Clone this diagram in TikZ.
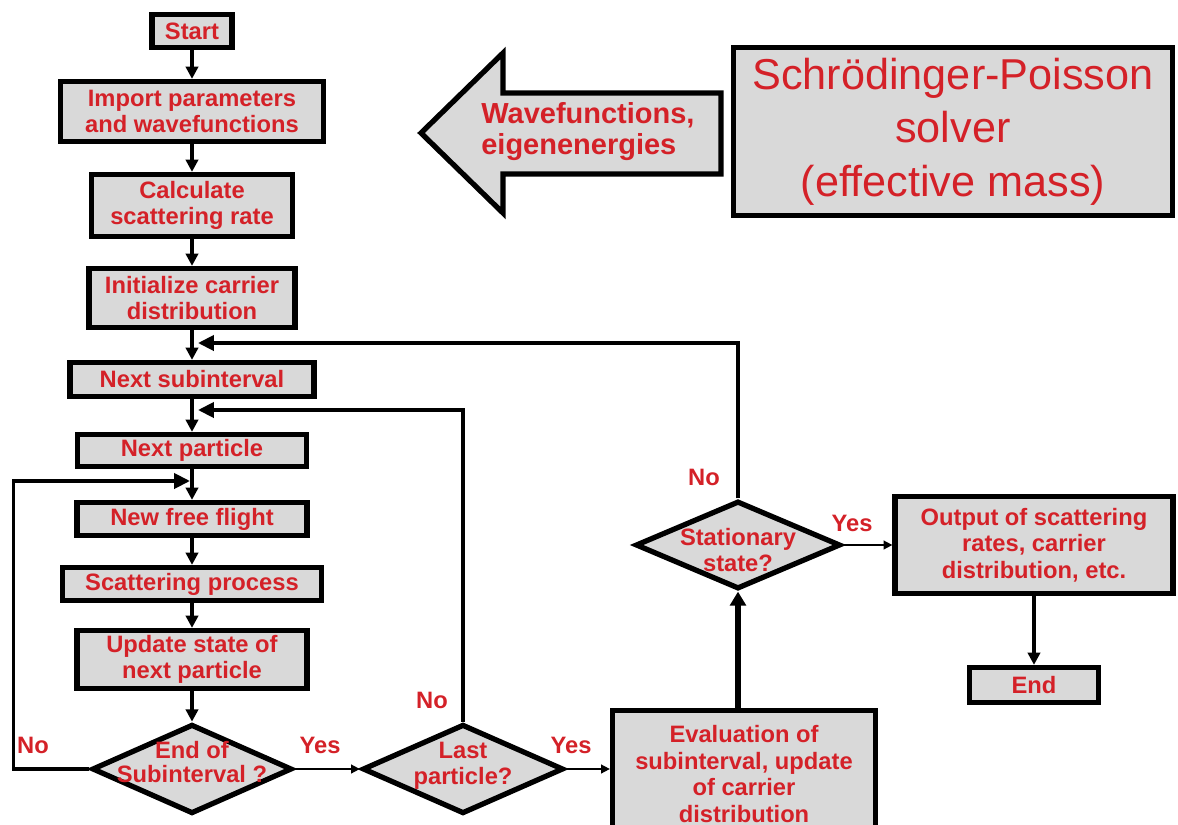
\documentclass[tikz,border=0pt]{standalone}
\usepackage{fontspec}
\setmainfont{Liberation Sans}
\usetikzlibrary{shapes.geometric,arrows.meta}
\definecolor{txtred}{RGB}{212,33,40}
\definecolor{boxgray}{RGB}{217,217,217}
\newcommand{\boxfont}{\fontsize{13.5}{15}\selectfont\bfseries}
\newcommand{\wavefont}{\fontsize{16.5}{17.6}\selectfont\bfseries}
\newcommand{\solverfont}{\fontsize{24.6}{30.5}\selectfont}

\begin{document}
\begin{tikzpicture}[x=0.02cm, y=-0.02cm,
	box/.style={draw, line width=3pt, fill=boxgray, text=txtred, font=\boxfont, align=center, inner sep=0pt},
	decision/.style={draw, diamond, line width=3pt, fill=boxgray, inner sep=0pt},
	lab/.style={text=txtred, font=\boxfont, inner sep=0pt},
	link/.style={line width=1.9pt, -{Triangle[length=7pt,width=7pt]}},
	back/.style={line width=2.1pt, -{Triangle[length=9pt,width=8.5pt]}},
	yeslink/.style={line width=0.9pt, -{Triangle[length=5pt,width=5pt]}}]
	\useasboundingbox (0,0) rectangle (1178,825);
	\clip (0,0) rectangle (1178,825);

	% colonne de gauche
	\node[box, minimum width=1.6cm, minimum height=0.66cm] (start) at (192,31) {Start};
	\node[box, minimum width=5.26cm, minimum height=1.2cm] (import) at (192,111.5) {Import parameters\\and wavefunctions};
	\node[box, minimum width=4.02cm, minimum height=1.24cm] (calc) at (192,205.5) {Calculate\\scattering rate};
	\node[box, minimum width=4.12cm, minimum height=1.18cm] (init) at (192,298) {Initialize carrier\\distribution};
	\node[box, minimum width=4.88cm, minimum height=0.68cm] (nextsub) at (192,379.5) {Next subinterval};
	\node[box, minimum width=4.58cm, minimum height=0.64cm] (nextpart) at (192,450.5) {Next particle};
	\node[box, minimum width=4.6cm, minimum height=0.66cm] (newflight) at (192,519) {New free flight};
	\node[box, minimum width=5.18cm, minimum height=0.66cm] (scatter) at (192,584) {Scattering process};
	\node[box, minimum width=4.6cm, minimum height=1.16cm] (update) at (192,659.5) {Update state of\\next particle};

	% decisions
	\node[decision, minimum width=4cm, minimum height=1.79cm,
		label={[lab, align=center, font=\fontsize{13.5}{13.6}\selectfont\bfseries, yshift=0.14cm]center:{End of\\Subinterval ?}}] (endsub) at (192,769) {};
	\node[decision, minimum width=4.02cm, minimum height=1.79cm,
		label={[lab, align=center, yshift=0.06cm]center:{Last\\particle?}}] (lastp) at (463,769) {};
	\node[decision, minimum width=4.1cm, minimum height=1.76cm,
		label={[lab, align=center, yshift=-0.1cm]center:{Stationary\\state?}}] (stat) at (738,545) {};

	% partie droite
	\node[box, minimum width=5.26cm, minimum height=2.54cm] (eval) at (744,774) {Evaluation of\\subinterval, update\\of carrier\\distribution};
	\node[box, minimum width=5.56cm, minimum height=1.94cm] (output) at (1034,545) {Output of scattering\\rates, carrier\\distribution, etc.};
	\node[box, minimum width=2.58cm, minimum height=0.7cm] (endbox) at (1034,685) {End};
	\node[box, font=\solverfont, minimum width=8.78cm, minimum height=3.36cm] (solver) at (953,131.5) {Schrödinger-Poisson\\solver\\(effective mass)};

	% grosse fleche
	\draw[line width=3pt, fill=boxgray, line join=miter] (721,93) -- (503,93) -- (503,53) -- (421,133) -- (503,213) -- (503,174) -- (721,174) -- cycle;
	\node[lab, font=\wavefont, align=left, anchor=west] (wavetxt) at (481,132) {Wavefunctions,\\eigenenergies};

	% fleches
	\foreach \a/\b in {start/import, import/calc, calc/init, init/nextsub, nextsub/nextpart, nextpart/newflight, newflight/scatter, scatter/update, update/endsub}
		\draw[link] (\a) -- (\b);
	\draw[link] (output) -- (endbox);
	\draw[line width=3pt, -{Triangle[length=8pt,width=9pt]}] (stat.south |- eval.north) -- (stat.south);

	% boucles
	\coordinate (j1) at (190,481);
	\coordinate (j2) at (198,410);
	\coordinate (j3) at (198,343);
	\draw[back] (endsub.west) -- ++(-76,0) |- (j1);
	\draw[back] (lastp.north) |- (j2);
	\draw[back] (stat.north) |- (j3);
	\draw[yeslink] (endsub.east) -- (lastp.west);
	\draw[yeslink] (lastp.east) -- (lastp.east -| eval.west);
	\draw[yeslink] (stat.east) -- (output.west);

	% etiquettes
	\node[lab] (no1) at (33,745) {No};
	\node[lab] (no2) at (432,700) {No};
	\node[lab] (no3) at (704,477) {No};
	\node[lab] (yes1) at (320,745) {Yes};
	\node[lab] (yes2) at (571,745) {Yes};
	\node[lab] (yes3) at (852,523) {Yes};
\end{tikzpicture}
\end{document}
